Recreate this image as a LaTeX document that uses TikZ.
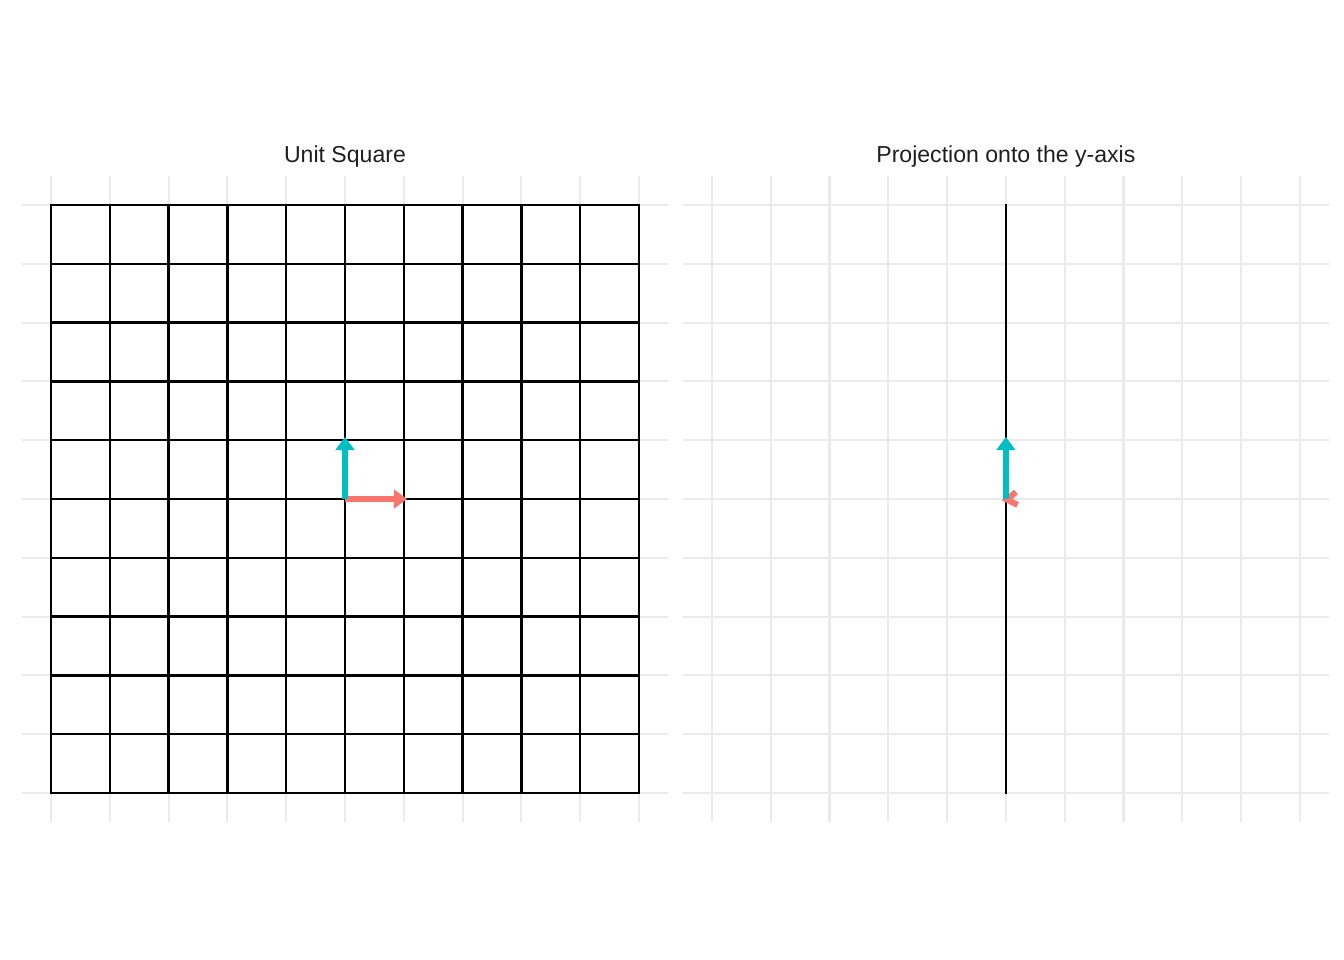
\documentclass[tikz,border=0pt]{standalone}
\usepackage{fontspec}
\setmainfont{Liberation Sans}
\usetikzlibrary{arrows.meta}
\begin{document}
\begin{tikzpicture}[
    x=44.1pt, y=44.1pt,
    bg_style/.style={draw=black!8, line width=1.6pt},
    grid_style/.style={draw=black, line width=1.9pt, line cap=rect},
    title_style/.style={font=\fontsize{17.3}{20}\selectfont, text=black!88},
    vec_style/.style={line width=4.5pt, shorten >=-2.5pt, -{Triangle[length=10pt, width=14pt]}}
]
\definecolor{vecx}{HTML}{F8766D}
\definecolor{vecy}{HTML}{00BFC4}
\useasboundingbox (-0.867,-2.840) rectangle (21.99,13.486);
% Carre unite
\begin{scope}
    \node[title_style] (t1) at (5, 10.83) {Unit Square};
    \foreach \i in {0,...,10} {
        \draw[bg_style] (\i,-0.5) -- (\i,10.5);
        \draw[bg_style] (-0.5,\i) -- (10.5,\i);
    }
    \foreach \i in {0,...,10} {
        \draw[grid_style] (\i,0) -- (\i,10);
        \draw[grid_style] (0,\i) -- (10,\i);
    }
    \coordinate (o1) at (5,5);
    \coordinate (e1) at (6,5);
    \coordinate (f1) at (5,6);
    \draw[vec_style, vecx] (o1) -- (e1);
    \draw[vec_style, vecy] (o1) -- (f1);
\end{scope}
% Projection sur l'axe y
\begin{scope}[shift={(11.24,0)}]
    \node[title_style] (t2) at (5, 10.83) {Projection onto the y-axis};
    \foreach \i in {0,...,10} {
        \draw[bg_style] (\i,-0.5) -- (\i,10.5);
        \draw[bg_style] (-0.5,\i) -- (10.5,\i);
    }
    \draw[grid_style] (5,0) -- (5,10);
    \coordinate (o2) at (5,5);
    \coordinate (f2) at (5,6);
    \draw[vecx, line width=4.5pt] ([shift={(0.17,0.12)}]o2) -- ([shift={(0.02,-0.01)}]o2) -- ([shift={(0.2,-0.1)}]o2);
    \draw[vec_style, vecy] (o2) -- (f2);
\end{scope}
\end{tikzpicture}
\end{document}
